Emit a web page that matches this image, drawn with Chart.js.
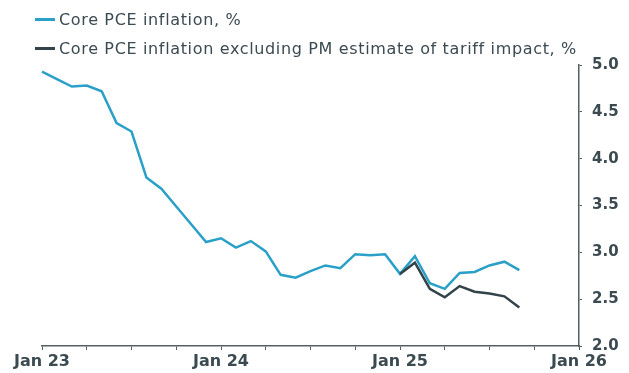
<!DOCTYPE html>
<html>
<head>
<meta charset="utf-8">
<script src="https://cdn.jsdelivr.net/npm/chart.js@4.4.0/dist/chart.umd.min.js"></script>
<style>
  body { margin: 0; background: #fff; }
  #wrap { position: relative; width: 629px; height: 373px; }
  #legend { position: absolute; left: 35px; top: 7px; font-family: "DejaVu Sans", sans-serif; font-size: 16px; letter-spacing: 0.65px; color: #3b4a51; }
  .item { height: 29px; line-height: 26px; white-space: nowrap; }
  .sw { display: inline-block; width: 20px; height: 3px; vertical-align: middle; margin-right: 4px; position: relative; top: -1px; }
</style>
</head>
<body>
<div id="wrap">
  <div id="legend">
    <div class="item"><span class="sw" style="background:#2aa0c8"></span>Core PCE inflation, %</div>
    <div class="item"><span class="sw" style="background:#33434a"></span>Core PCE inflation excluding PM estimate of tariff impact, %</div>
  </div>
  <canvas id="chart" width="629" height="373"></canvas>
</div>
<script>
// months Jan 23 .. Jan 26
var months = [];
var yrs = ["23", "24", "25", "26"];
var mon = ["Jan","Feb","Mar","Apr","May","Jun","Jul","Aug","Sep","Oct","Nov","Dec"];
for (var y = 0; y < 4; y++) {
  for (var m = 0; m < 12; m++) {
    if (y == 3 && m > 0) break;
    months.push(mon[m] + " " + yrs[y]);
  }
}

// Core PCE inflation, % (Jan 23 - Sep 25)
var corePce = [4.93, 4.85, 4.77, 4.78, 4.72, 4.38, 4.29, 3.80, 3.68, 3.49, 3.30, 3.11,
               3.15, 3.05, 3.12, 3.01, 2.76, 2.73, 2.80, 2.86, 2.83, 2.98, 2.97, 2.98,
               2.77, 2.96, 2.67, 2.61, 2.78, 2.79, 2.86, 2.90, 2.81];

// excluding PM estimate of tariff impact (from Jan 25)
var corePceExTariff = [null, null, null, null, null, null, null, null, null, null, null, null,
                       null, null, null, null, null, null, null, null, null, null, null, null,
                       2.77, 2.89, 2.61, 2.52, 2.64, 2.58, 2.56, 2.53, 2.41];

var yTicks = [2.0, 2.5, 3.0, 3.5, 4.0, 4.5, 5.0];

var axisColor = "#555f63";
var textColor = "#3b4a51";

var ctx = document.getElementById("chart").getContext("2d");
var myChart = new Chart(ctx, {
  type: "line",
  data: {
    labels: months,
    datasets: [
      {
        label: "Core PCE inflation, %",
        data: corePce,
        borderColor: "#2aa0c8",
        borderWidth: 2.5,
        pointRadius: 0,
        tension: 0,
        order: 2
      },
      {
        label: "Core PCE inflation excluding PM estimate of tariff impact, %",
        data: corePceExTariff,
        borderColor: "#33434a",
        borderWidth: 2.5,
        pointRadius: 0,
        tension: 0,
        order: 1
      }
    ]
  },
  options: {
    responsive: false,
    animation: false,
    layout: { padding: { left: 42, right: 0, top: 65, bottom: 0 } },
    plugins: { legend: { display: false }, tooltip: { enabled: false } },
    scales: {
      x: {
        offset: false,
        afterFit: function(a) { a.height = 27; },
        border: { color: axisColor, width: 1.5 },
        grid: {
          drawOnChartArea: false,
          drawTicks: true,
          tickLength: 4,
          tickColor: function(c) { return c.index % 3 === 0 ? axisColor : "rgba(0,0,0,0)"; }
        },
        ticks: {
          autoSkip: false,
          maxRotation: 0,
          padding: 2,
          color: textColor,
          font: { family: "DejaVu Sans", size: 16, weight: "bold" },
          callback: function(v, i) { return i % 12 === 0 ? months[i] : ""; }
        }
      },
      y: {
        position: "right",
        min: 2,
        max: 5,
        afterFit: function(a) { a.width = 50; },
        afterBuildTicks: function(axis) { axis.ticks = yTicks.map(function(v) { return { value: v }; }); },
        border: { color: axisColor, width: 1.5 },
        grid: { drawOnChartArea: false, tickLength: 3, tickColor: axisColor },
        ticks: {
          padding: 10,
          color: textColor,
          font: { family: "DejaVu Sans", size: 15, weight: "bold" },
          callback: function(v) { return v.toFixed(1); }
        }
      }
    }
  }
});
</script>
</body>
</html>
